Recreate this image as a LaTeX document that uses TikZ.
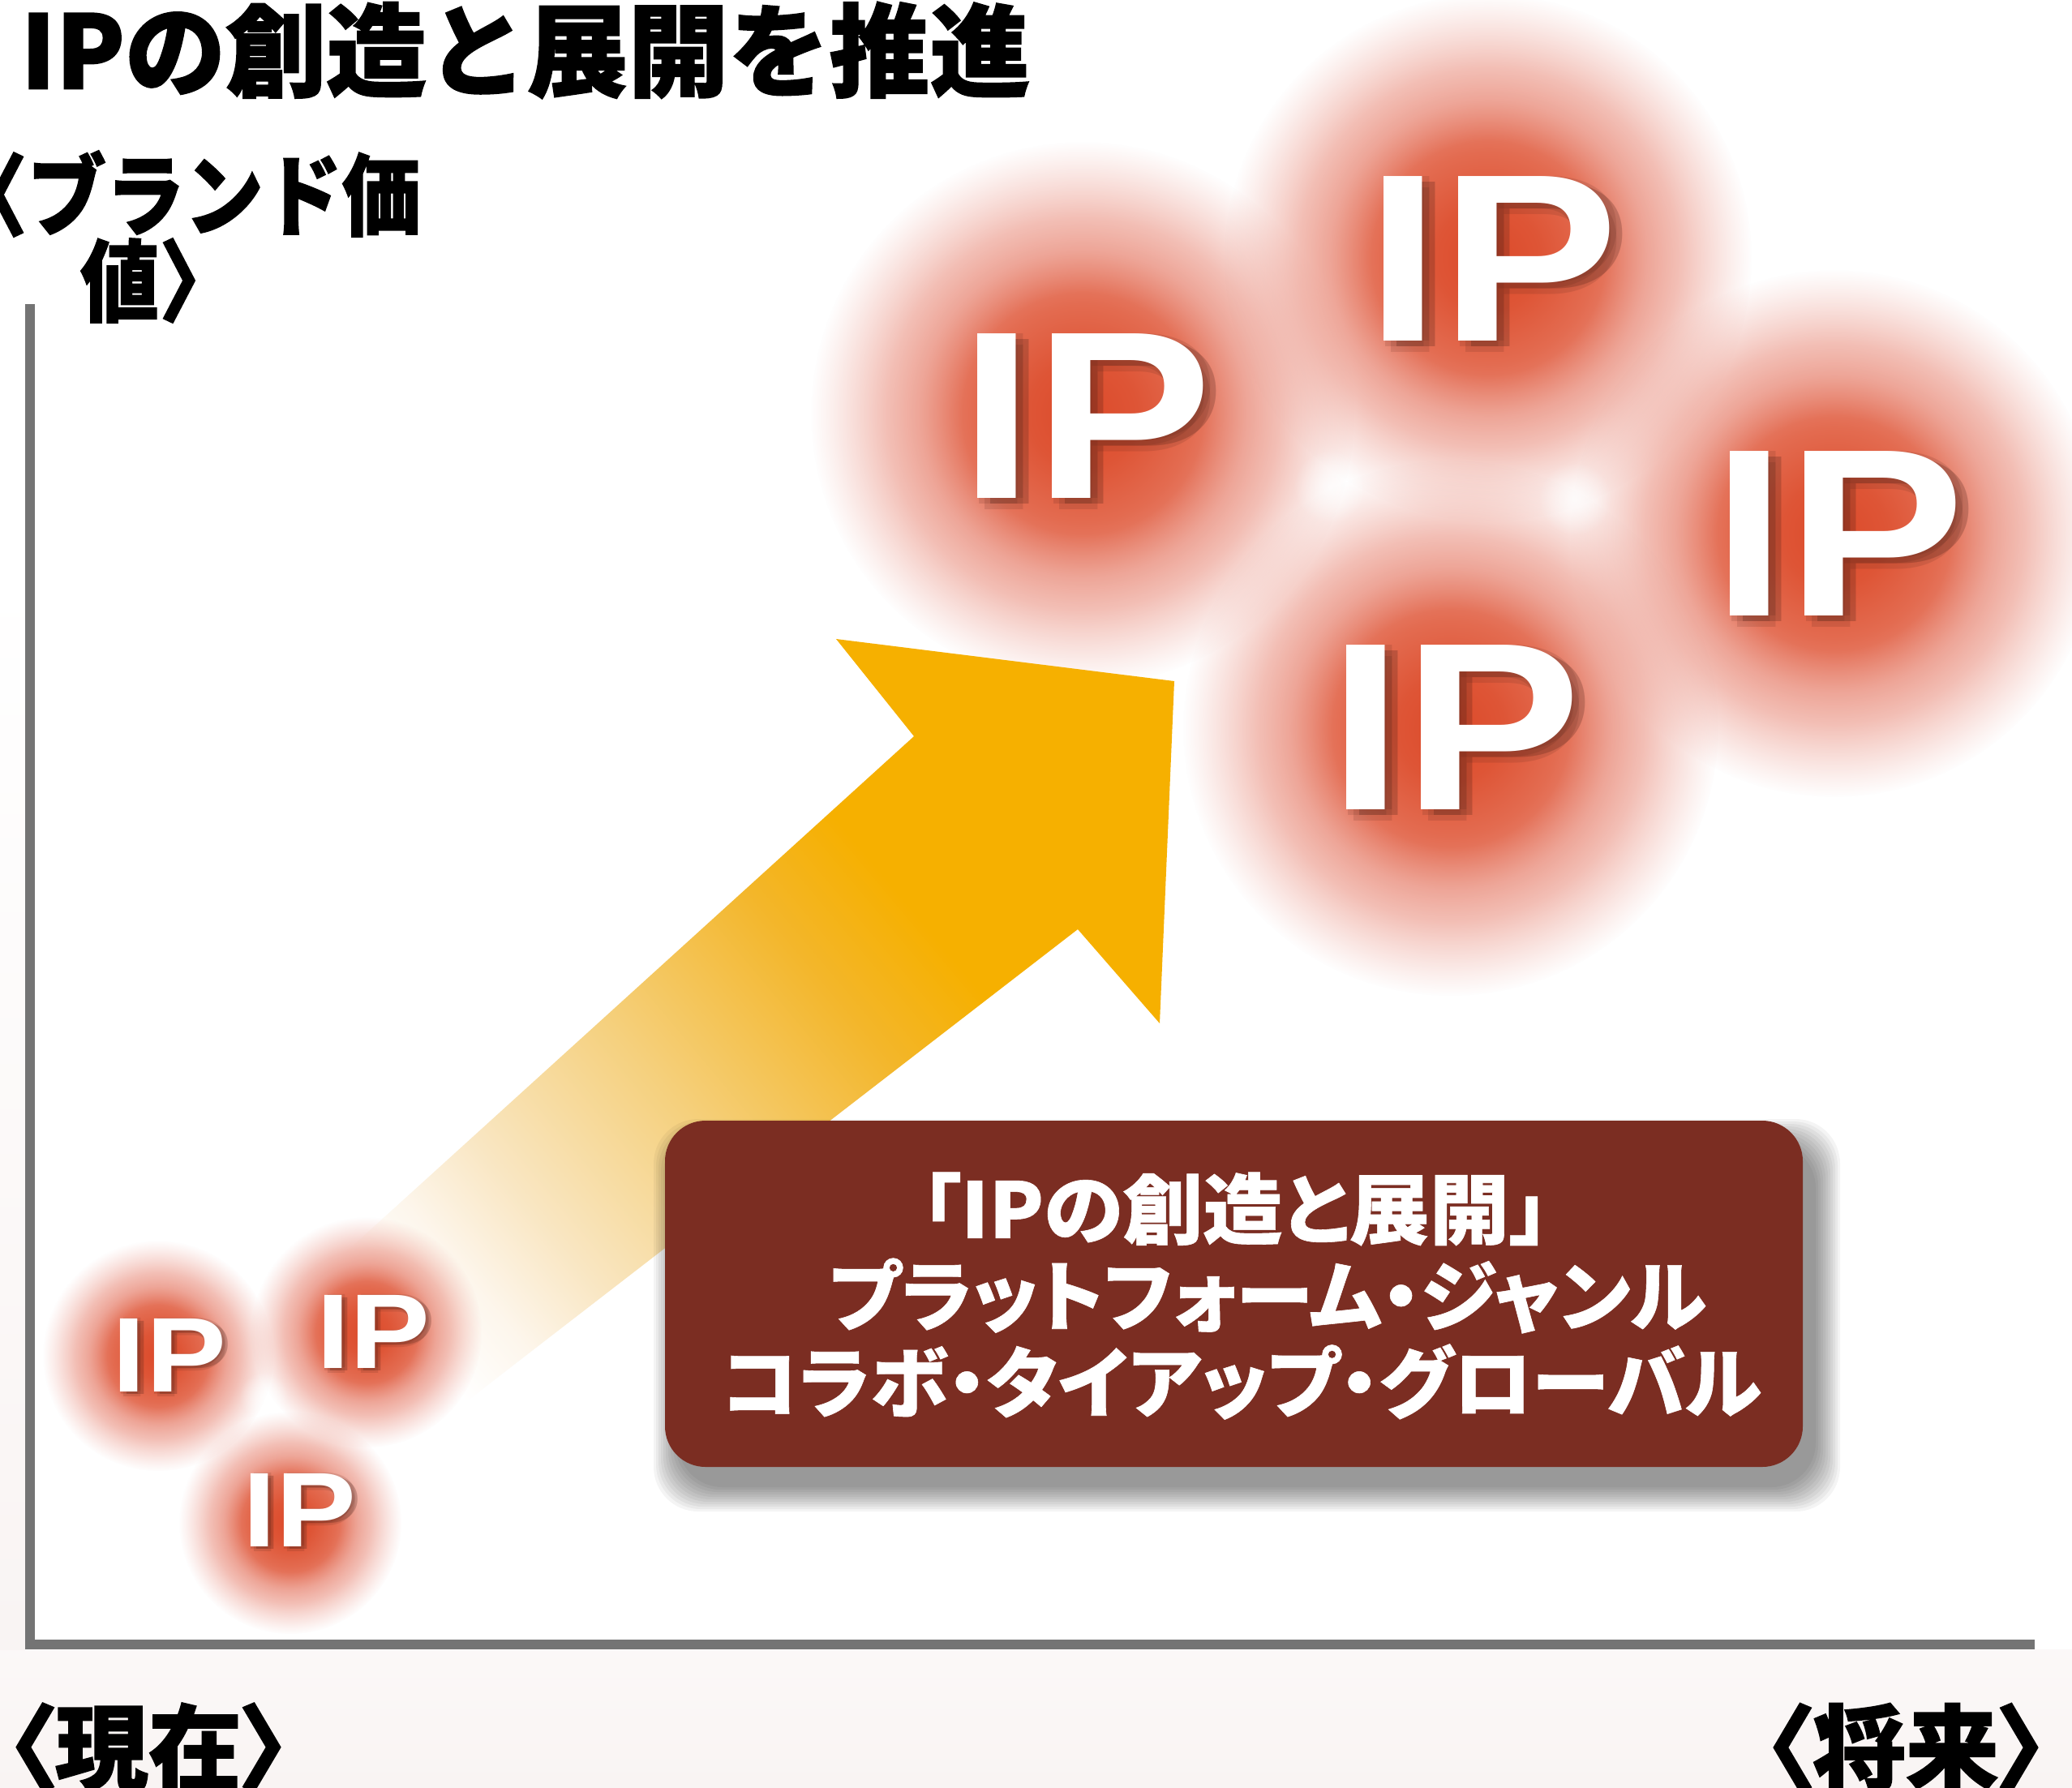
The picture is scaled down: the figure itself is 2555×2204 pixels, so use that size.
\documentclass[tikz,border=0pt]{standalone}
\usepackage{fontspec}
\usepackage{graphicx}
\usetikzlibrary{fadings,calc}
\newfontfamily\cjk{Noto Sans CJK JP}[BoldFeatures={FakeBold=1.4}]
\newfontfamily\cjkp{Noto Sans CJK JP}[RawFeature=+palt,BoldFeatures={FakeBold=1.4}]
\newfontfamily\cjkbox{Noto Sans CJK JP}[RawFeature=+palt,BoldFeatures={FakeBold=0.6}]
\newfontfamily\ipfont{Liberation Sans}

\definecolor{axisgray}{RGB}{116,116,116}
\definecolor{boxbrown}{RGB}{123,45,34}
\definecolor{arroworange}{RGB}{246,176,0}
\definecolor{arrowA}{RGB}{243,182,42}
\definecolor{arrowB}{RGB}{245,208,125}
\definecolor{arrowC}{RGB}{249,230,194}
\definecolor{arrowD}{RGB}{253,246,236}
\definecolor{blobzero}{RGB}{220,74,42}
\definecolor{blobone}{RGB}{222,85,54}
\definecolor{blobtwo}{RGB}{227,107,80}
\definecolor{blobthree}{RGB}{233,139,121}
\definecolor{blobfour}{RGB}{239,169,158}
\definecolor{ipshadow}{RGB}{70,30,22}
\definecolor{bgpink}{RGB}{249,244,243}

\pgfdeclareradialshading{blobshade}{\pgfpointorigin}{color(0bp)=(blobzero); color(5bp)=(blobone); color(10bp)=(blobtwo); color(15bp)=(blobthree); color(25bp)=(blobfour); color(50bp)=(blobfour)}
\pgfdeclareradialshading{blobfadeshade}{\pgfpointorigin}{color(0bp)=(pgftransparent!0); color(11bp)=(pgftransparent!0); color(18bp)=(pgftransparent!40); color(25bp)=(pgftransparent!100); color(50bp)=(pgftransparent!100)}
\pgfdeclarefading{blobfade}{\pgfuseshading{blobfadeshade}}
\pgfdeclareradialshading{sparkfadeshade}{\pgfpointorigin}{color(0bp)=(pgftransparent!30); color(25bp)=(pgftransparent!100); color(50bp)=(pgftransparent!100)}
\pgfdeclarefading{sparkfade}{\pgfuseshading{sparkfadeshade}}
\pgfdeclareverticalshading{arrowshade}{100bp}{color(0bp)=(white); color(21bp)=(white); color(26bp)=(arrowD); color(32bp)=(arrowC); color(43bp)=(arrowB); color(55bp)=(arrowA); color(62bp)=(arroworange); color(100bp)=(arroworange)}

\tikzset{
  blob/.style={shading=blobshade, path fading=blobfade},
  spark/.style={fill=white, path fading=sparkfade},
  bigip/.style={inner sep=0pt, font=\ipfont\bfseries\fontsize{295}{300}\selectfont, text=white},
  smallip/.style={inner sep=0pt, font=\ipfont\bfseries\fontsize{131}{135}\selectfont, text=white},
  ipsh/.style={text=ipshadow, text opacity=0.13},
  titlefont/.style={inner sep=0pt, font=\cjk\bfseries\fontsize{125}{130}\selectfont, text=black},
  labfont/.style={inner sep=0pt, font=\cjk\bfseries\fontsize{110}{115}\selectfont, text=black},
  labpfont/.style={inner sep=0pt, font=\cjkp\bfseries\fontsize{115}{120}\selectfont, text=black},
  boxtext/.style={inner sep=0pt, font=\cjkbox\bfseries\fontsize{95}{100}\selectfont, text=white},
  axisline/.style={draw=axisgray, line width=12pt, line join=miter},
  brownbox/.style={fill=boxbrown, rounded corners=50pt},
  boxshadow/.style={fill=black, opacity=0.045, rounded corners=55pt}
}
\newcommand{\BigIP}{\resizebox{311pt}{\height}{IP}}
\newcommand{\SmallIP}{\resizebox{140pt}{\height}{IP}}

\begin{document}
\begin{tikzpicture}[x=1pt,y=-1pt]
\useasboundingbox (0,0) rectangle (2555,2204);
\fill[white] (0,0) rectangle (2555,2204);
% background tint outside the chart
\shade[top color=bgpink!60!white, bottom color=bgpink] (0,2034) rectangle (2555,2204);
\shade[top color=white, bottom color=bgpink] (0,700) rectangle (31,2034);

% big blobs
\shade[blob] (1335,510) circle (335);
\shade[blob] (1835,318) circle (325);
\shade[blob] (2262,658) circle (325);
\shade[blob] (1789,898) circle (330);
% sparkles between the big blobs
\fill[spark] (1640,600) circle (45);
\fill[spark] (1942,615) circle (45);

% arrow
\coordinate (tailL) at (420,1550);
\coordinate (notchU) at (1127,908);
\coordinate (headL) at (1031,788);
\coordinate (tip) at (1448,840);
\coordinate (headB) at (1430,1262);
\coordinate (notchL) at (1329,1146);
\coordinate (tailR) at (560,1740);
\shade[shading=arrowshade, shading angle=-50] (tailL) -- (notchU) -- (headL) -- (tip) -- (headB) -- (notchL) -- (tailR) -- cycle;

% small blobs
\shade[blob] (195,1672) circle (142);
\shade[blob] (452,1643) circle (142);
\shade[blob] (358,1878) circle (137);
\fill[spark] (325,1722) circle (30);

% axes
\coordinate (ytop) at (36.5,375);
\coordinate (origin) at (36.5,2028);
\coordinate (xend) at (2509,2028);
\draw[axisline] (ytop) -- (origin) -- (xend);

% brown box with soft shadow
\foreach \k in {0,...,10}{
  \fill[boxshadow] (836-3*\k,1410-3*\k) rectangle (2239+3*\k,1834+3*\k);
}
\node[brownbox, minimum width=1403pt, minimum height=427pt, inner sep=0pt] (box) at (1521.5,1595.5) {};
\node[boxtext] (line1) at (1523,1491) {\resizebox{775pt}{\height}{「IPの創造と展開」}};
\node[boxtext] (line2) at (1563,1598) {\resizebox{1082pt}{\height}{プラットフォーム・ジャンル}};
\node[boxtext] (line3) at (1531,1704) {\resizebox{1282pt}{\height}{コラボ・タイアップ・グローバル}};

% IP labels with soft shadows
\foreach \n/\x/\y in {A/1339/513, B/1840/319.5, C/2267/658.5, D/1794/897.5}{
  \foreach \k in {0,...,4}{
    \node[bigip, ipsh] (ip\n-sh\k) at ({\x+9+7*cos(90*\k)}, {\y+7+7*sin(90*\k)}) {\BigIP};
  }
  \node[bigip] (ip\n) at (\x,\y) {\BigIP};
}
\foreach \n/\x/\y in {S1/209/1671, S2/460/1642, S3/369/1862}{
  \foreach \k in {0,...,4}{
    \node[smallip, ipsh] (ip\n-sh\k) at ({\x+4+3.5*cos(90*\k)}, {\y+3+3.5*sin(90*\k)}) {\SmallIP};
  }
  \node[smallip] (ip\n) at (\x,\y) {\SmallIP};
}

% texts
\node[titlefont] (title) at (648,62) {\resizebox{1245pt}{\height}{IPの創造と展開を推進}};
\node[labfont, anchor=east] (ylab1) at (519,239) {\resizebox{582pt}{\height}{〈ブランド価}};
\node[labfont, anchor=west] (ylab2) at (99,346) {\resizebox{194pt}{\height}{値〉}};
\node[labpfont] (now) at (183,2155) {\resizebox{345pt}{\height}{〈現在〉}};
\node[labpfont] (future) at (2350,2155) {\resizebox{345pt}{\height}{〈将来〉}};
\end{tikzpicture}
\end{document}
